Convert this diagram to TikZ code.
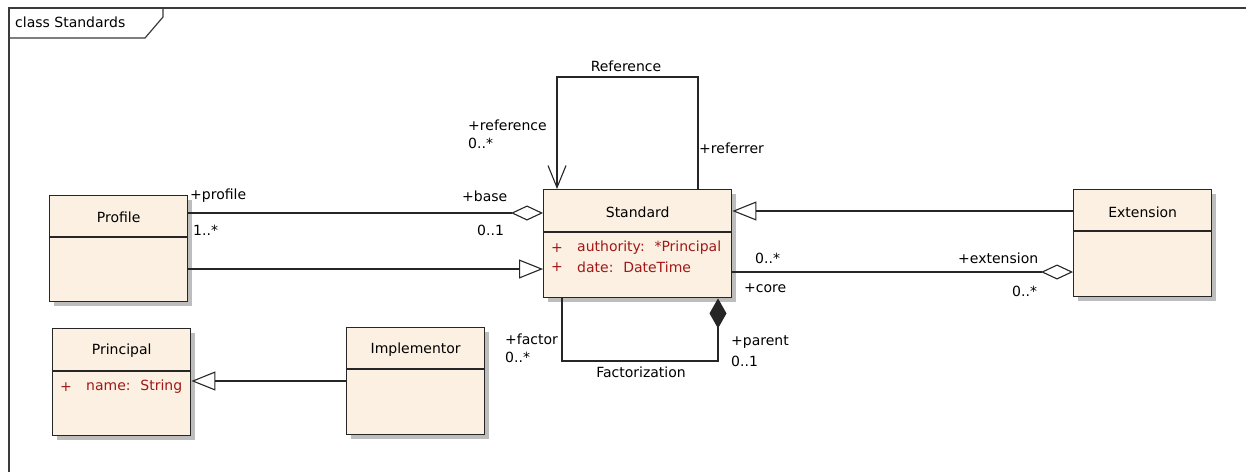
\documentclass[tikz,border=0pt]{standalone}
\usepackage{fontspec}
\setmainfont{DejaVu Sans}
\usetikzlibrary{arrows.meta,shadows,calc}
\definecolor{clsfill}{HTML}{FBF0E1}
\definecolor{attrred}{HTML}{A01818}
\definecolor{shadowgray}{HTML}{BDBDBD}
\definecolor{framegray}{HTML}{3A3A3A}
\definecolor{linegray}{HTML}{262626}
\begin{document}
\begin{tikzpicture}[x=1pt,y=-1pt,
  every node/.style={font=\fontsize{14}{16}\selectfont, inner sep=0pt},
  cls/.style={draw=linegray, line width=1.4pt, fill=clsfill,
    drop shadow={shadow xshift=4pt, shadow yshift=-4pt, fill=shadowgray, opacity=1},
    anchor=north west, minimum width=138pt, minimum height=107pt},
  cline/.style={draw=linegray, line width=1.2pt},
  conn/.style={draw=linegray, line width=1.1pt},
  gen/.style={conn, -{Triangle[open, length=24pt, width=19pt]}},
  agg/.style={conn, -{Diamond[open, length=32pt, width=15pt]}},
  comp/.style={conn, -{Diamond[length=30pt, width=17pt]}},
  nav/.style={conn, -{Straight Barb[length=22pt, width=18pt]}},
  lbl/.style={anchor=west},
  attr/.style={anchor=west, text=attrred}
]
\useasboundingbox (0,0) rectangle (1246,472);
\fill[white] (0,0) rectangle (1246,472);

% frame
\draw[framegray, line width=1.5pt] (1246,8) -- (9,8) -- (9,472);
\draw[framegray, line width=1.2pt] (9,38) -- (145,38) -- (163,17) -- (163,8);
\node[lbl] (frametitle) at (15,22) {class Standards};

% classes
\node[cls, minimum width=138pt, minimum height=106pt] (prof) at (49,195) {};
\draw[cline] ([yshift=-42pt]prof.north west) -- ([yshift=-42pt]prof.north east);
\node (profT) at ([yshift=-22pt]prof.north) {Profile};

\node[cls, minimum width=188pt, minimum height=108pt] (std) at (543,189) {};
\draw[cline] ([yshift=-43pt]std.north west) -- ([yshift=-43pt]std.north east);
\node (stdT) at ([yshift=-23pt]std.north) {Standard};
\node[attr] (stdA1p) at (551,248) {+};
\node[attr] (stdA1) at (577,248) {authority:\hspace{0.7em}*Principal};
\node[attr] (stdA2p) at (551,267) {+};
\node[attr] (stdA2) at (577,267) {date:\hspace{0.7em}DateTime};

\node[cls, minimum width=138pt, minimum height=107pt] (ext) at (1073,189) {};
\draw[cline] ([yshift=-42pt]ext.north west) -- ([yshift=-42pt]ext.north east);
\node (extT) at ([yshift=-23pt]ext.north) {Extension};

\node[cls, minimum width=138pt, minimum height=107pt] (prin) at (52,328) {};
\draw[cline] ([yshift=-43pt]prin.north west) -- ([yshift=-43pt]prin.north east);
\node (prinT) at ([yshift=-23pt]prin.north) {Principal};
\node[attr] (prinAp) at (60,387) {+};
\node[attr] (prinA) at (86,387) {name:\hspace{0.7em}String};

\node[cls, minimum width=138pt, minimum height=107pt] (impl) at (346,327) {};
\draw[cline] ([yshift=-42pt]impl.north west) -- ([yshift=-42pt]impl.north east);
\node (implT) at ([yshift=-23pt]impl.north) {Implementor};

% helper coordinates
\coordinate (yA) at (0,213);
\coordinate (yB) at (0,269);
\coordinate (yC) at (0,211);
\coordinate (yD) at (0,272);
\coordinate (yE) at (0,381);
\coordinate (refL) at (557,77);
\coordinate (refR) at (698,77);
\coordinate (facL) at (562,361);
\coordinate (facR) at (718,361);

% connectors
\draw[agg] (prof.east |- yA) -- (std.west |- yA);
\draw[gen] (prof.east |- yB) -- (std.west |- yB);
\draw[gen] (ext.west |- yC) -- (std.east |- yC);
\draw[agg] (std.east |- yD) -- (ext.west |- yD);
\draw[gen] (impl.west |- yE) -- (prin.east |- yE);
\draw[nav] (std.north -| refR) -- (refR) -- (refL) -- (std.north -| refL);
\draw[comp] (std.south -| facL) -- (facL) -- (facR) -- (std.south -| facR);

% labels
\node[lbl] (l1) at (190,196) {+profile};
\node[lbl] (l2) at (193,230) {1..*};
\node[lbl] (l3) at (462,196) {+base};
\node[lbl] (l4) at (477,230) {0..1};
\node (l5) at (626,66) {Reference};
\node[lbl] (l6) at (468,125) {+reference};
\node[lbl] (l7) at (468,143) {0..*};
\node[lbl] (l8) at (699,148) {+referrer};
\node[lbl] (l9) at (755,258) {0..*};
\node[lbl] (l10) at (744,288) {+core};
\node[lbl] (l11) at (958,258) {+extension};
\node[lbl] (l12) at (1012,291) {0..*};
\node[lbl] (l13) at (505,339) {+factor};
\node[lbl] (l14) at (505,357) {0..*};
\node[lbl] (l15) at (731,342) {+parent};
\node[lbl] (l16) at (731,361) {0..1};
\node (l17) at (641,372) {Factorization};
\end{tikzpicture}
\end{document}
